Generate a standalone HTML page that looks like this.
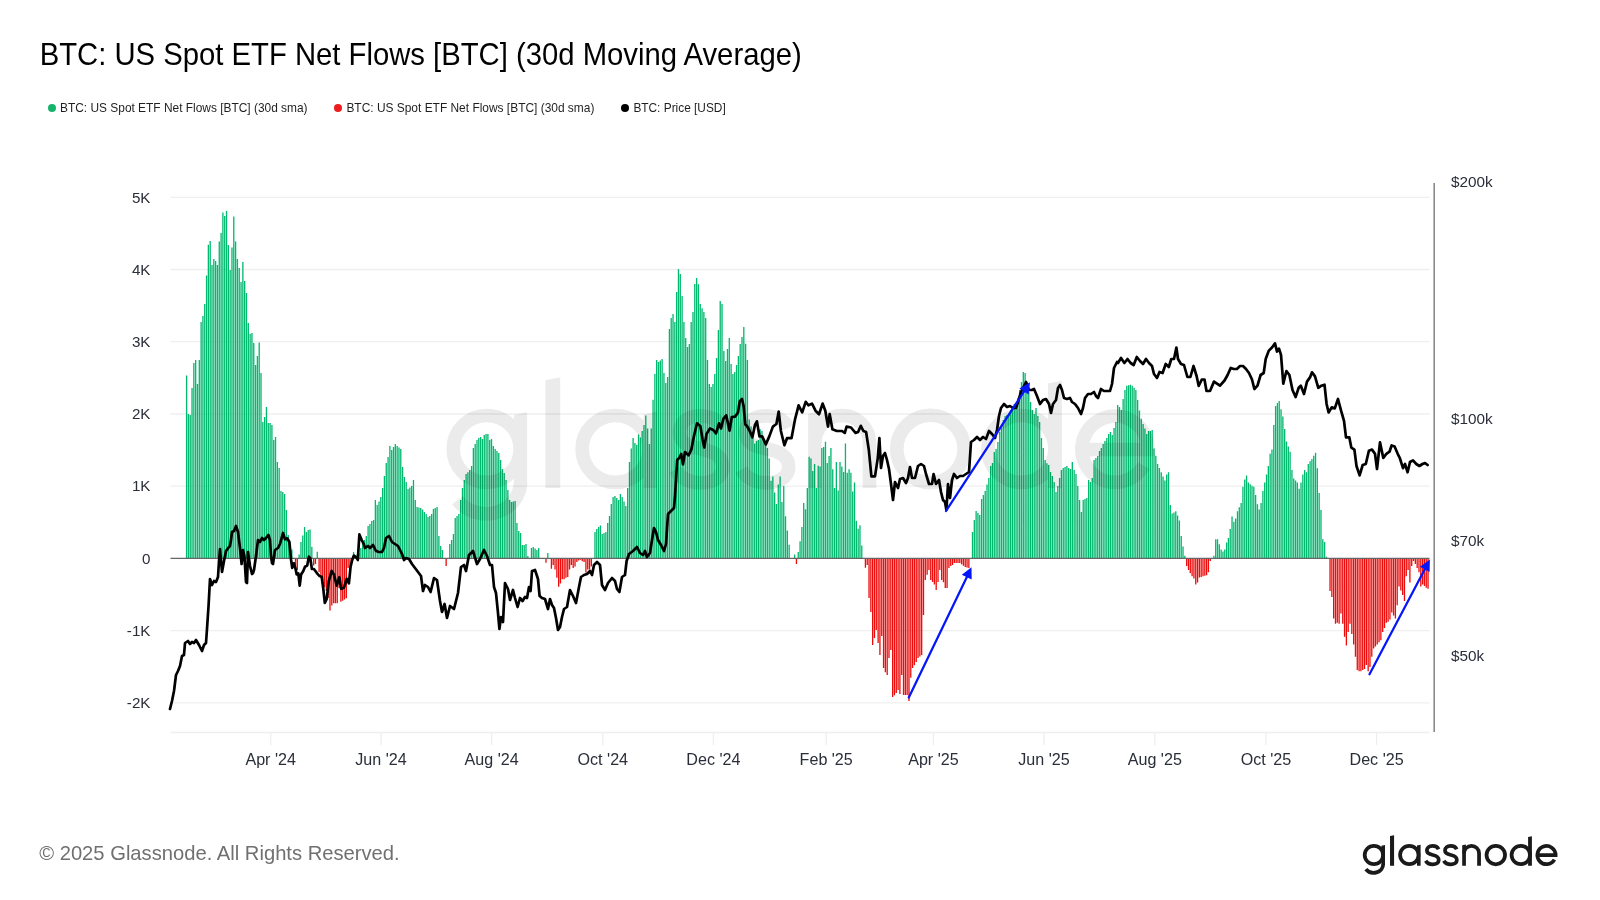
<!DOCTYPE html>
<html><head><meta charset="utf-8"><title>BTC: US Spot ETF Net Flows</title>
<style>
html,body{margin:0;padding:0;background:#fff;}
body{width:1600px;height:900px;position:relative;overflow:hidden;font-family:"Liberation Sans",sans-serif;}
svg{position:absolute;left:0;top:0;will-change:transform;}
</style></head><body>
<svg width="1600" height="900" viewBox="0 0 1600 900" font-family="Liberation Sans, sans-serif">
<text x="39.7" y="64.6" font-size="31.2" fill="#000" textLength="762" lengthAdjust="spacingAndGlyphs">BTC: US Spot ETF Net Flows [BTC] (30d Moving Average)</text>
<g font-size="12.2" fill="#1f1f1f">
<circle cx="52" cy="108" r="4" fill="#16b46b"/><text x="60" y="111.9" textLength="247.6" lengthAdjust="spacingAndGlyphs">BTC: US Spot ETF Net Flows [BTC] (30d sma)</text>
<circle cx="338" cy="108" r="4" fill="#ee1c1c"/><text x="346.4" y="111.9" textLength="248" lengthAdjust="spacingAndGlyphs">BTC: US Spot ETF Net Flows [BTC] (30d sma)</text>
<circle cx="625" cy="108" r="4" fill="#000"/><text x="633.4" y="111.9" textLength="92.3" lengthAdjust="spacingAndGlyphs">BTC: Price [USD]</text>
</g>
<g stroke="#efefef" stroke-width="1.3">
<line x1="170.5" y1="197.3" x2="1429.5" y2="197.3"/><line x1="170.5" y1="269.5" x2="1429.5" y2="269.5"/><line x1="170.5" y1="341.7" x2="1429.5" y2="341.7"/><line x1="170.5" y1="414.0" x2="1429.5" y2="414.0"/><line x1="170.5" y1="486.2" x2="1429.5" y2="486.2"/><line x1="170.5" y1="630.6" x2="1429.5" y2="630.6"/><line x1="170.5" y1="702.8" x2="1429.5" y2="702.8"/>
<line x1="170.5" y1="732.5" x2="1429.5" y2="732.5"/>
<line x1="270.7" y1="732.5" x2="270.7" y2="745"/><line x1="381.0" y1="732.5" x2="381.0" y2="745"/><line x1="491.6" y1="732.5" x2="491.6" y2="745"/><line x1="602.8" y1="732.5" x2="602.8" y2="745"/><line x1="713.4" y1="732.5" x2="713.4" y2="745"/><line x1="826.2" y1="732.5" x2="826.2" y2="745"/><line x1="933.4" y1="732.5" x2="933.4" y2="745"/><line x1="1044.0" y1="732.5" x2="1044.0" y2="745"/><line x1="1154.8" y1="732.5" x2="1154.8" y2="745"/><line x1="1265.9" y1="732.5" x2="1265.9" y2="745"/><line x1="1376.6" y1="732.5" x2="1376.6" y2="745"/>
</g>
<g font-size="15.2" fill="#2a2e39" text-anchor="end"><text x="150.5" y="202.5">5K</text><text x="150.5" y="274.7">4K</text><text x="150.5" y="346.9">3K</text><text x="150.5" y="419.2">2K</text><text x="150.5" y="491.4">1K</text><text x="150.5" y="563.6">0</text><text x="150.5" y="635.8">-1K</text><text x="150.5" y="708.0">-2K</text></g>
<g font-size="16.1" fill="#2a2e39" text-anchor="middle"><text x="270.7" y="765">Apr '24</text><text x="381.0" y="765">Jun '24</text><text x="491.6" y="765">Aug '24</text><text x="602.8" y="765">Oct '24</text><text x="713.4" y="765">Dec '24</text><text x="826.2" y="765">Feb '25</text><text x="933.4" y="765">Apr '25</text><text x="1044.0" y="765">Jun '25</text><text x="1154.8" y="765">Aug '25</text><text x="1265.9" y="765">Oct '25</text><text x="1376.6" y="765">Dec '25</text></g>
<g font-size="15.3" fill="#2a2e39"><text x="1451" y="187.0">$200k</text><text x="1451" y="424.0">$100k</text><text x="1451" y="546.0">$70k</text><text x="1451" y="661.0">$50k</text></g>
<path d="M185.94 375.4h1.31V558.4h-1.31zM187.76 414.0h1.31V558.4h-1.31zM189.57 415.0h1.31V558.4h-1.31zM191.39 388.0h1.31V558.4h-1.31zM193.20 363.0h1.31V558.4h-1.31zM195.02 360.0h1.31V558.4h-1.31zM196.84 384.0h1.31V558.4h-1.31zM198.65 360.0h1.31V558.4h-1.31zM200.47 322.0h1.31V558.4h-1.31zM202.28 316.0h1.31V558.4h-1.31zM204.09 304.0h1.31V558.4h-1.31zM205.91 275.5h1.31V558.4h-1.31zM207.72 244.8h1.31V558.4h-1.31zM209.54 241.0h1.31V558.4h-1.31zM211.35 265.0h1.31V558.4h-1.31zM213.17 259.0h1.31V558.4h-1.31zM214.98 261.0h1.31V558.4h-1.31zM216.80 265.0h1.31V558.4h-1.31zM218.61 241.5h1.31V558.4h-1.31zM220.43 233.0h1.31V558.4h-1.31zM222.24 212.5h1.31V558.4h-1.31zM224.06 216.0h1.31V558.4h-1.31zM225.88 211.0h1.31V558.4h-1.31zM227.69 245.0h1.31V558.4h-1.31zM229.50 270.0h1.31V558.4h-1.31zM231.32 247.5h1.31V558.4h-1.31zM233.13 216.5h1.31V558.4h-1.31zM234.95 241.5h1.31V558.4h-1.31zM236.76 259.0h1.31V558.4h-1.31zM238.58 268.0h1.31V558.4h-1.31zM240.39 282.0h1.31V558.4h-1.31zM242.21 262.0h1.31V558.4h-1.31zM244.03 281.0h1.31V558.4h-1.31zM245.84 293.0h1.31V558.4h-1.31zM247.66 323.0h1.31V558.4h-1.31zM249.47 334.0h1.31V558.4h-1.31zM251.28 333.0h1.31V558.4h-1.31zM253.10 343.0h1.31V558.4h-1.31zM254.91 365.0h1.31V558.4h-1.31zM256.73 356.0h1.31V558.4h-1.31zM258.55 342.4h1.31V558.4h-1.31zM260.36 373.0h1.31V558.4h-1.31zM262.18 422.0h1.31V558.4h-1.31zM263.99 417.0h1.31V558.4h-1.31zM265.81 407.0h1.31V558.4h-1.31zM267.62 423.0h1.31V558.4h-1.31zM269.44 423.0h1.31V558.4h-1.31zM271.25 425.0h1.31V558.4h-1.31zM273.07 440.0h1.31V558.4h-1.31zM274.88 437.0h1.31V558.4h-1.31zM276.70 462.0h1.31V558.4h-1.31zM278.51 468.0h1.31V558.4h-1.31zM280.33 491.0h1.31V558.4h-1.31zM282.14 492.0h1.31V558.4h-1.31zM283.96 494.0h1.31V558.4h-1.31zM285.77 510.0h1.31V558.4h-1.31zM287.59 535.0h1.31V558.4h-1.31zM289.40 545.0h1.31V558.4h-1.31zM291.22 549.4h1.31V558.4h-1.31zM298.48 554.4h1.31V558.4h-1.31zM300.29 542.0h1.31V558.4h-1.31zM302.11 535.6h1.31V558.4h-1.31zM303.92 527.0h1.31V558.4h-1.31zM305.74 532.0h1.31V558.4h-1.31zM307.55 530.0h1.31V558.4h-1.31zM309.37 529.4h1.31V558.4h-1.31zM311.18 546.7h1.31V558.4h-1.31zM316.62 551.7h1.31V558.4h-1.31zM352.93 552.0h1.31V558.4h-1.31zM354.74 555.6h1.31V558.4h-1.31zM356.56 554.4h1.31V558.4h-1.31zM358.37 553.3h1.31V558.4h-1.31zM360.19 548.0h1.31V558.4h-1.31zM362.00 543.3h1.31V558.4h-1.31zM363.82 540.0h1.31V558.4h-1.31zM365.63 536.0h1.31V558.4h-1.31zM367.45 526.0h1.31V558.4h-1.31zM369.26 524.0h1.31V558.4h-1.31zM371.08 521.0h1.31V558.4h-1.31zM372.89 520.0h1.31V558.4h-1.31zM374.71 500.0h1.31V558.4h-1.31zM376.52 505.0h1.31V558.4h-1.31zM378.34 501.5h1.31V558.4h-1.31zM380.15 497.0h1.31V558.4h-1.31zM381.97 488.1h1.31V558.4h-1.31zM383.78 476.0h1.31V558.4h-1.31zM385.60 463.0h1.31V558.4h-1.31zM387.41 457.0h1.31V558.4h-1.31zM389.23 446.0h1.31V558.4h-1.31zM391.04 450.0h1.31V558.4h-1.31zM392.86 447.0h1.31V558.4h-1.31zM394.67 444.0h1.31V558.4h-1.31zM396.49 446.0h1.31V558.4h-1.31zM398.30 447.4h1.31V558.4h-1.31zM400.12 449.0h1.31V558.4h-1.31zM401.93 467.0h1.31V558.4h-1.31zM403.75 477.0h1.31V558.4h-1.31zM405.56 482.0h1.31V558.4h-1.31zM407.38 489.0h1.31V558.4h-1.31zM409.19 487.4h1.31V558.4h-1.31zM411.00 486.0h1.31V558.4h-1.31zM412.82 480.0h1.31V558.4h-1.31zM414.63 500.0h1.31V558.4h-1.31zM416.45 507.0h1.31V558.4h-1.31zM418.26 507.5h1.31V558.4h-1.31zM420.08 508.0h1.31V558.4h-1.31zM421.89 509.4h1.31V558.4h-1.31zM423.71 512.0h1.31V558.4h-1.31zM425.52 514.0h1.31V558.4h-1.31zM427.34 517.0h1.31V558.4h-1.31zM429.15 516.0h1.31V558.4h-1.31zM430.97 514.0h1.31V558.4h-1.31zM432.79 509.0h1.31V558.4h-1.31zM434.60 508.0h1.31V558.4h-1.31zM436.42 507.0h1.31V558.4h-1.31zM438.23 536.0h1.31V558.4h-1.31zM440.05 546.0h1.31V558.4h-1.31zM441.86 550.0h1.31V558.4h-1.31zM449.12 544.0h1.31V558.4h-1.31zM450.94 540.0h1.31V558.4h-1.31zM452.75 534.0h1.31V558.4h-1.31zM454.57 518.0h1.31V558.4h-1.31zM456.38 516.0h1.31V558.4h-1.31zM458.20 514.0h1.31V558.4h-1.31zM460.01 500.0h1.31V558.4h-1.31zM461.83 488.0h1.31V558.4h-1.31zM463.64 480.0h1.31V558.4h-1.31zM465.46 474.0h1.31V558.4h-1.31zM467.27 472.2h1.31V558.4h-1.31zM469.09 470.0h1.31V558.4h-1.31zM470.90 466.0h1.31V558.4h-1.31zM472.72 448.0h1.31V558.4h-1.31zM474.53 444.0h1.31V558.4h-1.31zM476.35 440.0h1.31V558.4h-1.31zM478.16 438.0h1.31V558.4h-1.31zM479.98 437.0h1.31V558.4h-1.31zM481.79 439.0h1.31V558.4h-1.31zM483.61 435.0h1.31V558.4h-1.31zM485.42 434.0h1.31V558.4h-1.31zM487.24 434.0h1.31V558.4h-1.31zM489.05 440.0h1.31V558.4h-1.31zM490.87 439.1h1.31V558.4h-1.31zM492.68 446.0h1.31V558.4h-1.31zM494.50 449.0h1.31V558.4h-1.31zM496.31 450.9h1.31V558.4h-1.31zM498.12 453.0h1.31V558.4h-1.31zM499.94 460.0h1.31V558.4h-1.31zM501.75 469.0h1.31V558.4h-1.31zM503.57 473.0h1.31V558.4h-1.31zM505.38 480.0h1.31V558.4h-1.31zM507.20 490.0h1.31V558.4h-1.31zM509.01 500.0h1.31V558.4h-1.31zM510.83 502.0h1.31V558.4h-1.31zM512.64 501.5h1.31V558.4h-1.31zM514.46 501.0h1.31V558.4h-1.31zM516.27 523.0h1.31V558.4h-1.31zM518.09 531.0h1.31V558.4h-1.31zM519.90 533.0h1.31V558.4h-1.31zM521.72 545.0h1.31V558.4h-1.31zM523.53 545.0h1.31V558.4h-1.31zM525.35 544.0h1.31V558.4h-1.31zM527.16 556.0h1.31V558.4h-1.31zM530.79 548.0h1.31V558.4h-1.31zM532.61 547.0h1.31V558.4h-1.31zM534.43 548.6h1.31V558.4h-1.31zM536.24 550.0h1.31V558.4h-1.31zM538.06 548.0h1.31V558.4h-1.31zM547.13 553.0h1.31V558.4h-1.31zM594.32 532.0h1.31V558.4h-1.31zM596.13 529.0h1.31V558.4h-1.31zM597.95 527.0h1.31V558.4h-1.31zM599.76 525.5h1.31V558.4h-1.31zM601.58 534.0h1.31V558.4h-1.31zM603.39 533.0h1.31V558.4h-1.31zM605.21 532.0h1.31V558.4h-1.31zM607.02 523.0h1.31V558.4h-1.31zM608.84 516.0h1.31V558.4h-1.31zM610.65 504.0h1.31V558.4h-1.31zM612.47 497.0h1.31V558.4h-1.31zM614.28 496.0h1.31V558.4h-1.31zM616.10 498.0h1.31V558.4h-1.31zM617.91 500.0h1.31V558.4h-1.31zM619.73 494.0h1.31V558.4h-1.31zM621.54 497.0h1.31V558.4h-1.31zM623.36 501.6h1.31V558.4h-1.31zM625.17 506.0h1.31V558.4h-1.31zM626.99 488.0h1.31V558.4h-1.31zM628.81 462.0h1.31V558.4h-1.31zM630.62 448.6h1.31V558.4h-1.31zM632.44 438.0h1.31V558.4h-1.31zM634.25 443.0h1.31V558.4h-1.31zM636.07 444.7h1.31V558.4h-1.31zM637.88 434.6h1.31V558.4h-1.31zM639.70 437.4h1.31V558.4h-1.31zM641.51 431.0h1.31V558.4h-1.31zM643.33 425.0h1.31V558.4h-1.31zM645.14 415.4h1.31V558.4h-1.31zM646.96 428.4h1.31V558.4h-1.31zM648.77 444.0h1.31V558.4h-1.31zM650.59 428.4h1.31V558.4h-1.31zM652.40 399.7h1.31V558.4h-1.31zM654.22 374.0h1.31V558.4h-1.31zM656.03 360.0h1.31V558.4h-1.31zM657.85 362.0h1.31V558.4h-1.31zM659.66 360.6h1.31V558.4h-1.31zM661.48 359.0h1.31V558.4h-1.31zM663.29 373.0h1.31V558.4h-1.31zM665.11 383.0h1.31V558.4h-1.31zM666.92 377.0h1.31V558.4h-1.31zM668.74 329.0h1.31V558.4h-1.31zM670.55 318.0h1.31V558.4h-1.31zM672.37 314.0h1.31V558.4h-1.31zM674.18 322.0h1.31V558.4h-1.31zM676.00 292.0h1.31V558.4h-1.31zM677.81 269.0h1.31V558.4h-1.31zM679.62 274.0h1.31V558.4h-1.31zM681.44 296.0h1.31V558.4h-1.31zM683.25 322.0h1.31V558.4h-1.31zM685.07 338.0h1.31V558.4h-1.31zM686.88 347.0h1.31V558.4h-1.31zM688.70 344.0h1.31V558.4h-1.31zM690.51 322.0h1.31V558.4h-1.31zM692.33 312.0h1.31V558.4h-1.31zM694.14 284.0h1.31V558.4h-1.31zM695.96 278.0h1.31V558.4h-1.31zM697.77 284.2h1.31V558.4h-1.31zM699.59 304.0h1.31V558.4h-1.31zM701.41 308.2h1.31V558.4h-1.31zM703.22 312.0h1.31V558.4h-1.31zM705.04 318.0h1.31V558.4h-1.31zM706.85 360.0h1.31V558.4h-1.31zM708.67 384.0h1.31V558.4h-1.31zM710.48 387.0h1.31V558.4h-1.31zM712.30 384.0h1.31V558.4h-1.31zM714.11 374.0h1.31V558.4h-1.31zM715.93 358.0h1.31V558.4h-1.31zM717.74 330.0h1.31V558.4h-1.31zM719.56 301.0h1.31V558.4h-1.31zM721.37 304.0h1.31V558.4h-1.31zM723.19 351.0h1.31V558.4h-1.31zM725.00 361.0h1.31V558.4h-1.31zM726.82 349.0h1.31V558.4h-1.31zM728.63 338.0h1.31V558.4h-1.31zM730.45 364.0h1.31V558.4h-1.31zM732.26 374.0h1.31V558.4h-1.31zM734.08 372.0h1.31V558.4h-1.31zM735.89 365.0h1.31V558.4h-1.31zM737.71 356.0h1.31V558.4h-1.31zM739.52 344.0h1.31V558.4h-1.31zM741.34 337.1h1.31V558.4h-1.31zM743.15 327.0h1.31V558.4h-1.31zM744.97 343.8h1.31V558.4h-1.31zM746.78 360.0h1.31V558.4h-1.31zM748.60 419.5h1.31V558.4h-1.31zM750.41 426.6h1.31V558.4h-1.31zM752.23 438.0h1.31V558.4h-1.31zM754.04 443.5h1.31V558.4h-1.31zM755.86 440.9h1.31V558.4h-1.31zM757.67 440.0h1.31V558.4h-1.31zM759.49 429.3h1.31V558.4h-1.31zM761.30 431.0h1.31V558.4h-1.31zM763.12 439.0h1.31V558.4h-1.31zM764.93 445.3h1.31V558.4h-1.31zM766.75 448.0h1.31V558.4h-1.31zM768.56 458.6h1.31V558.4h-1.31zM770.38 480.8h1.31V558.4h-1.31zM772.19 476.4h1.31V558.4h-1.31zM774.00 492.4h1.31V558.4h-1.31zM775.82 504.0h1.31V558.4h-1.31zM777.63 484.4h1.31V558.4h-1.31zM779.45 476.4h1.31V558.4h-1.31zM781.26 502.0h1.31V558.4h-1.31zM783.08 486.0h1.31V558.4h-1.31zM784.89 516.3h1.31V558.4h-1.31zM786.71 530.5h1.31V558.4h-1.31zM788.52 544.8h1.31V558.4h-1.31zM793.97 554.5h1.31V558.4h-1.31zM797.60 551.9h1.31V558.4h-1.31zM799.42 541.2h1.31V558.4h-1.31zM801.23 527.0h1.31V558.4h-1.31zM803.05 503.0h1.31V558.4h-1.31zM804.86 509.2h1.31V558.4h-1.31zM806.68 488.0h1.31V558.4h-1.31zM808.49 456.8h1.31V558.4h-1.31zM810.31 458.6h1.31V558.4h-1.31zM812.12 471.0h1.31V558.4h-1.31zM813.94 464.0h1.31V558.4h-1.31zM815.75 488.0h1.31V558.4h-1.31zM817.57 465.7h1.31V558.4h-1.31zM819.38 466.6h1.31V558.4h-1.31zM821.20 448.0h1.31V558.4h-1.31zM823.01 447.0h1.31V558.4h-1.31zM824.83 441.7h1.31V558.4h-1.31zM826.64 463.0h1.31V558.4h-1.31zM828.46 456.0h1.31V558.4h-1.31zM830.27 448.0h1.31V558.4h-1.31zM832.09 469.3h1.31V558.4h-1.31zM833.90 488.0h1.31V558.4h-1.31zM835.72 462.0h1.31V558.4h-1.31zM837.53 490.6h1.31V558.4h-1.31zM839.35 462.0h1.31V558.4h-1.31zM841.16 466.6h1.31V558.4h-1.31zM842.98 472.0h1.31V558.4h-1.31zM844.79 443.5h1.31V558.4h-1.31zM846.61 472.8h1.31V558.4h-1.31zM848.42 469.3h1.31V558.4h-1.31zM850.24 472.8h1.31V558.4h-1.31zM852.05 491.5h1.31V558.4h-1.31zM853.87 482.6h1.31V558.4h-1.31zM855.68 520.8h1.31V558.4h-1.31zM857.50 528.8h1.31V558.4h-1.31zM859.31 525.2h1.31V558.4h-1.31zM861.12 545.6h1.31V558.4h-1.31zM971.84 532.0h1.31V558.4h-1.31zM973.65 520.0h1.31V558.4h-1.31zM975.47 511.0h1.31V558.4h-1.31zM977.29 512.9h1.31V558.4h-1.31zM979.10 515.0h1.31V558.4h-1.31zM980.92 499.0h1.31V558.4h-1.31zM982.73 495.0h1.31V558.4h-1.31zM984.55 491.0h1.31V558.4h-1.31zM986.36 484.4h1.31V558.4h-1.31zM988.18 478.0h1.31V558.4h-1.31zM989.99 466.0h1.31V558.4h-1.31zM991.81 463.0h1.31V558.4h-1.31zM993.62 452.0h1.31V558.4h-1.31zM995.44 449.0h1.31V558.4h-1.31zM997.25 442.0h1.31V558.4h-1.31zM999.07 432.0h1.31V558.4h-1.31zM1000.88 426.0h1.31V558.4h-1.31zM1002.70 420.0h1.31V558.4h-1.31zM1004.51 416.0h1.31V558.4h-1.31zM1006.33 415.0h1.31V558.4h-1.31zM1008.14 414.0h1.31V558.4h-1.31zM1009.96 410.0h1.31V558.4h-1.31zM1011.77 406.0h1.31V558.4h-1.31zM1013.59 404.0h1.31V558.4h-1.31zM1015.40 403.0h1.31V558.4h-1.31zM1017.22 398.0h1.31V558.4h-1.31zM1019.03 390.0h1.31V558.4h-1.31zM1020.85 382.0h1.31V558.4h-1.31zM1022.66 372.0h1.31V558.4h-1.31zM1024.47 373.0h1.31V558.4h-1.31zM1026.29 382.0h1.31V558.4h-1.31zM1028.11 392.0h1.31V558.4h-1.31zM1029.92 402.0h1.31V558.4h-1.31zM1031.73 410.0h1.31V558.4h-1.31zM1033.55 414.0h1.31V558.4h-1.31zM1035.37 408.0h1.31V558.4h-1.31zM1037.18 416.0h1.31V558.4h-1.31zM1038.99 422.0h1.31V558.4h-1.31zM1040.81 438.0h1.31V558.4h-1.31zM1042.62 448.0h1.31V558.4h-1.31zM1044.44 460.0h1.31V558.4h-1.31zM1046.25 463.2h1.31V558.4h-1.31zM1048.07 465.0h1.31V558.4h-1.31zM1049.88 472.0h1.31V558.4h-1.31zM1051.70 476.0h1.31V558.4h-1.31zM1053.51 482.0h1.31V558.4h-1.31zM1055.33 492.0h1.31V558.4h-1.31zM1057.14 486.0h1.31V558.4h-1.31zM1058.96 478.0h1.31V558.4h-1.31zM1060.77 470.0h1.31V558.4h-1.31zM1062.59 468.0h1.31V558.4h-1.31zM1064.40 466.9h1.31V558.4h-1.31zM1066.22 466.0h1.31V558.4h-1.31zM1068.03 468.0h1.31V558.4h-1.31zM1069.85 469.0h1.31V558.4h-1.31zM1071.66 462.0h1.31V558.4h-1.31zM1073.48 470.0h1.31V558.4h-1.31zM1075.30 474.0h1.31V558.4h-1.31zM1077.11 486.0h1.31V558.4h-1.31zM1078.92 500.0h1.31V558.4h-1.31zM1080.74 512.0h1.31V558.4h-1.31zM1082.56 500.0h1.31V558.4h-1.31zM1084.37 499.0h1.31V558.4h-1.31zM1086.18 498.0h1.31V558.4h-1.31zM1088.00 480.0h1.31V558.4h-1.31zM1089.82 482.0h1.31V558.4h-1.31zM1091.63 478.0h1.31V558.4h-1.31zM1093.44 460.0h1.31V558.4h-1.31zM1095.26 458.0h1.31V558.4h-1.31zM1097.08 456.0h1.31V558.4h-1.31zM1098.89 451.0h1.31V558.4h-1.31zM1100.70 448.0h1.31V558.4h-1.31zM1102.52 444.0h1.31V558.4h-1.31zM1104.34 441.0h1.31V558.4h-1.31zM1106.15 438.0h1.31V558.4h-1.31zM1107.96 434.0h1.31V558.4h-1.31zM1109.78 432.0h1.31V558.4h-1.31zM1111.60 435.0h1.31V558.4h-1.31zM1113.41 428.1h1.31V558.4h-1.31zM1115.22 422.0h1.31V558.4h-1.31zM1117.04 405.0h1.31V558.4h-1.31zM1118.86 407.0h1.31V558.4h-1.31zM1120.67 410.0h1.31V558.4h-1.31zM1122.48 399.0h1.31V558.4h-1.31zM1124.30 390.0h1.31V558.4h-1.31zM1126.12 385.7h1.31V558.4h-1.31zM1127.93 385.2h1.31V558.4h-1.31zM1129.74 384.7h1.31V558.4h-1.31zM1131.56 385.7h1.31V558.4h-1.31zM1133.38 387.8h1.31V558.4h-1.31zM1135.19 390.0h1.31V558.4h-1.31zM1137.00 400.0h1.31V558.4h-1.31zM1138.82 410.4h1.31V558.4h-1.31zM1140.63 418.7h1.31V558.4h-1.31zM1142.45 424.0h1.31V558.4h-1.31zM1144.26 428.6h1.31V558.4h-1.31zM1146.08 434.0h1.31V558.4h-1.31zM1147.89 431.0h1.31V558.4h-1.31zM1149.71 431.0h1.31V558.4h-1.31zM1151.52 430.0h1.31V558.4h-1.31zM1153.34 448.6h1.31V558.4h-1.31zM1155.15 455.8h1.31V558.4h-1.31zM1156.97 464.0h1.31V558.4h-1.31zM1158.78 467.9h1.31V558.4h-1.31zM1160.60 472.3h1.31V558.4h-1.31zM1162.41 476.5h1.31V558.4h-1.31zM1164.23 480.6h1.31V558.4h-1.31zM1166.05 474.4h1.31V558.4h-1.31zM1167.86 472.3h1.31V558.4h-1.31zM1169.67 505.0h1.31V558.4h-1.31zM1171.49 513.6h1.31V558.4h-1.31zM1173.31 512.4h1.31V558.4h-1.31zM1175.12 511.3h1.31V558.4h-1.31zM1176.93 515.5h1.31V558.4h-1.31zM1178.75 520.6h1.31V558.4h-1.31zM1180.57 536.0h1.31V558.4h-1.31zM1182.38 546.4h1.31V558.4h-1.31zM1184.19 555.7h1.31V558.4h-1.31zM1213.23 555.7h1.31V558.4h-1.31zM1215.05 539.2h1.31V558.4h-1.31zM1216.87 539.2h1.31V558.4h-1.31zM1218.68 544.3h1.31V558.4h-1.31zM1220.49 549.5h1.31V558.4h-1.31zM1222.31 551.6h1.31V558.4h-1.31zM1224.12 549.5h1.31V558.4h-1.31zM1225.94 542.4h1.31V558.4h-1.31zM1227.75 538.0h1.31V558.4h-1.31zM1229.57 529.0h1.31V558.4h-1.31zM1231.38 516.5h1.31V558.4h-1.31zM1233.20 521.7h1.31V558.4h-1.31zM1235.01 518.6h1.31V558.4h-1.31zM1236.83 511.3h1.31V558.4h-1.31zM1238.64 507.2h1.31V558.4h-1.31zM1240.46 503.0h1.31V558.4h-1.31zM1242.27 486.8h1.31V558.4h-1.31zM1244.09 479.5h1.31V558.4h-1.31zM1245.90 475.4h1.31V558.4h-1.31zM1247.72 482.6h1.31V558.4h-1.31zM1249.53 484.2h1.31V558.4h-1.31zM1251.35 485.7h1.31V558.4h-1.31zM1253.16 486.8h1.31V558.4h-1.31zM1254.98 495.0h1.31V558.4h-1.31zM1256.79 504.3h1.31V558.4h-1.31zM1258.61 509.5h1.31V558.4h-1.31zM1260.42 503.0h1.31V558.4h-1.31zM1262.24 491.0h1.31V558.4h-1.31zM1264.05 482.6h1.31V558.4h-1.31zM1265.87 474.4h1.31V558.4h-1.31zM1267.68 466.0h1.31V558.4h-1.31zM1269.50 453.8h1.31V558.4h-1.31zM1271.31 449.6h1.31V558.4h-1.31zM1273.13 425.0h1.31V558.4h-1.31zM1274.94 406.0h1.31V558.4h-1.31zM1276.76 403.0h1.31V558.4h-1.31zM1278.57 401.0h1.31V558.4h-1.31zM1280.39 409.2h1.31V558.4h-1.31zM1282.20 416.6h1.31V558.4h-1.31zM1284.02 429.0h1.31V558.4h-1.31zM1285.83 441.4h1.31V558.4h-1.31zM1287.65 446.5h1.31V558.4h-1.31zM1289.46 451.7h1.31V558.4h-1.31zM1291.28 470.0h1.31V558.4h-1.31zM1293.09 478.5h1.31V558.4h-1.31zM1294.91 480.4h1.31V558.4h-1.31zM1296.72 482.6h1.31V558.4h-1.31zM1298.54 488.8h1.31V558.4h-1.31zM1300.35 482.6h1.31V558.4h-1.31zM1302.17 474.4h1.31V558.4h-1.31zM1303.98 470.0h1.31V558.4h-1.31zM1305.80 472.3h1.31V558.4h-1.31zM1307.62 464.0h1.31V558.4h-1.31zM1309.43 461.3h1.31V558.4h-1.31zM1311.24 459.0h1.31V558.4h-1.31zM1313.06 455.8h1.31V558.4h-1.31zM1314.88 452.7h1.31V558.4h-1.31zM1316.69 468.2h1.31V558.4h-1.31zM1318.50 493.0h1.31V558.4h-1.31zM1320.32 510.0h1.31V558.4h-1.31zM1322.13 539.2h1.31V558.4h-1.31zM1323.95 541.9h1.31V558.4h-1.31zM1325.76 556.7h1.31V558.4h-1.31z" fill="#00b86e"/>
<path d="M294.85 558.4h1.31V568.0h-1.31zM296.66 558.4h1.31V570.0h-1.31zM313.00 558.4h1.31V565.6h-1.31zM314.81 558.4h1.31V564.0h-1.31zM318.44 558.4h1.31V572.0h-1.31zM320.25 558.4h1.31V578.0h-1.31zM322.07 558.4h1.31V583.0h-1.31zM323.88 558.4h1.31V587.3h-1.31zM325.70 558.4h1.31V591.0h-1.31zM327.51 558.4h1.31V598.0h-1.31zM329.33 558.4h1.31V610.6h-1.31zM331.14 558.4h1.31V605.6h-1.31zM332.96 558.4h1.31V603.3h-1.31zM334.77 558.4h1.31V603.3h-1.31zM336.59 558.4h1.31V603.3h-1.31zM338.41 558.4h1.31V588.0h-1.31zM340.22 558.4h1.31V601.7h-1.31zM342.04 558.4h1.31V600.7h-1.31zM343.85 558.4h1.31V599.4h-1.31zM345.67 558.4h1.31V598.3h-1.31zM347.48 558.4h1.31V568.0h-1.31zM349.30 558.4h1.31V570.0h-1.31zM351.11 558.4h1.31V560.5h-1.31zM445.49 558.4h1.31V566.0h-1.31zM545.32 558.4h1.31V562.8h-1.31zM550.76 558.4h1.31V568.8h-1.31zM552.58 558.4h1.31V565.0h-1.31zM554.39 558.4h1.31V569.5h-1.31zM556.21 558.4h1.31V577.8h-1.31zM558.02 558.4h1.31V586.8h-1.31zM559.84 558.4h1.31V583.4h-1.31zM561.65 558.4h1.31V579.2h-1.31zM563.47 558.4h1.31V579.2h-1.31zM565.28 558.4h1.31V577.8h-1.31zM567.10 558.4h1.31V577.0h-1.31zM568.91 558.4h1.31V569.5h-1.31zM570.73 558.4h1.31V565.0h-1.31zM572.54 558.4h1.31V568.0h-1.31zM574.36 558.4h1.31V566.5h-1.31zM576.17 558.4h1.31V562.0h-1.31zM577.99 558.4h1.31V560.5h-1.31zM579.80 558.4h1.31V559.8h-1.31zM581.62 558.4h1.31V561.2h-1.31zM583.43 558.4h1.31V562.0h-1.31zM585.25 558.4h1.31V572.5h-1.31zM587.06 558.4h1.31V569.5h-1.31zM588.88 558.4h1.31V569.5h-1.31zM590.69 558.4h1.31V566.5h-1.31zM795.79 558.4h1.31V564.0h-1.31zM864.75 558.4h1.31V567.8h-1.31zM866.57 558.4h1.31V565.0h-1.31zM868.38 558.4h1.31V598.0h-1.31zM870.20 558.4h1.31V612.0h-1.31zM872.01 558.4h1.31V645.0h-1.31zM873.83 558.4h1.31V637.9h-1.31zM875.64 558.4h1.31V630.0h-1.31zM877.46 558.4h1.31V643.0h-1.31zM879.27 558.4h1.31V655.0h-1.31zM881.09 558.4h1.31V636.0h-1.31zM882.91 558.4h1.31V668.0h-1.31zM884.72 558.4h1.31V672.2h-1.31zM886.54 558.4h1.31V675.0h-1.31zM888.35 558.4h1.31V658.0h-1.31zM890.17 558.4h1.31V650.0h-1.31zM891.98 558.4h1.31V697.0h-1.31zM893.80 558.4h1.31V695.2h-1.31zM895.61 558.4h1.31V693.0h-1.31zM897.43 558.4h1.31V690.0h-1.31zM899.24 558.4h1.31V694.0h-1.31zM901.06 558.4h1.31V675.0h-1.31zM902.87 558.4h1.31V695.0h-1.31zM904.69 558.4h1.31V695.0h-1.31zM906.50 558.4h1.31V695.0h-1.31zM908.32 558.4h1.31V701.0h-1.31zM910.13 558.4h1.31V677.7h-1.31zM911.95 558.4h1.31V668.0h-1.31zM913.76 558.4h1.31V665.3h-1.31zM915.58 558.4h1.31V662.0h-1.31zM917.39 558.4h1.31V658.0h-1.31zM919.21 558.4h1.31V656.6h-1.31zM921.02 558.4h1.31V655.0h-1.31zM922.84 558.4h1.31V615.0h-1.31zM924.65 558.4h1.31V580.0h-1.31zM926.47 558.4h1.31V574.7h-1.31zM928.28 558.4h1.31V570.0h-1.31zM930.10 558.4h1.31V580.0h-1.31zM931.91 558.4h1.31V582.0h-1.31zM933.73 558.4h1.31V584.5h-1.31zM935.54 558.4h1.31V590.0h-1.31zM937.36 558.4h1.31V582.1h-1.31zM939.17 558.4h1.31V570.0h-1.31zM940.99 558.4h1.31V580.0h-1.31zM942.80 558.4h1.31V582.3h-1.31zM944.62 558.4h1.31V588.0h-1.31zM946.43 558.4h1.31V588.0h-1.31zM948.25 558.4h1.31V568.0h-1.31zM950.06 558.4h1.31V566.0h-1.31zM951.88 558.4h1.31V564.9h-1.31zM953.69 558.4h1.31V563.0h-1.31zM955.50 558.4h1.31V563.0h-1.31zM957.32 558.4h1.31V563.0h-1.31zM959.13 558.4h1.31V563.0h-1.31zM960.95 558.4h1.31V564.3h-1.31zM962.76 558.4h1.31V565.7h-1.31zM964.58 558.4h1.31V567.0h-1.31zM966.39 558.4h1.31V567.5h-1.31zM968.21 558.4h1.31V568.0h-1.31zM1186.01 558.4h1.31V566.0h-1.31zM1187.83 558.4h1.31V569.9h-1.31zM1189.64 558.4h1.31V573.2h-1.31zM1191.45 558.4h1.31V576.3h-1.31zM1193.27 558.4h1.31V578.4h-1.31zM1195.09 558.4h1.31V584.6h-1.31zM1196.90 558.4h1.31V582.4h-1.31zM1198.71 558.4h1.31V577.4h-1.31zM1200.53 558.4h1.31V576.9h-1.31zM1202.35 558.4h1.31V576.3h-1.31zM1204.16 558.4h1.31V575.7h-1.31zM1205.97 558.4h1.31V575.3h-1.31zM1207.79 558.4h1.31V572.2h-1.31zM1209.61 558.4h1.31V561.0h-1.31zM1329.39 558.4h1.31V591.1h-1.31zM1331.21 558.4h1.31V597.0h-1.31zM1333.02 558.4h1.31V618.6h-1.31zM1334.84 558.4h1.31V623.8h-1.31zM1336.65 558.4h1.31V622.7h-1.31zM1338.47 558.4h1.31V623.8h-1.31zM1340.28 558.4h1.31V613.4h-1.31zM1342.10 558.4h1.31V623.8h-1.31zM1343.91 558.4h1.31V636.8h-1.31zM1345.73 558.4h1.31V645.4h-1.31zM1347.54 558.4h1.31V632.0h-1.31zM1349.36 558.4h1.31V623.8h-1.31zM1351.17 558.4h1.31V634.0h-1.31zM1352.99 558.4h1.31V644.4h-1.31zM1354.80 558.4h1.31V656.8h-1.31zM1356.62 558.4h1.31V670.0h-1.31zM1358.43 558.4h1.31V671.2h-1.31zM1360.25 558.4h1.31V671.2h-1.31zM1362.06 558.4h1.31V670.0h-1.31zM1363.88 558.4h1.31V669.0h-1.31zM1365.69 558.4h1.31V665.0h-1.31zM1367.51 558.4h1.31V671.2h-1.31zM1369.32 558.4h1.31V667.0h-1.31zM1371.14 558.4h1.31V656.8h-1.31zM1372.95 558.4h1.31V648.5h-1.31zM1374.77 558.4h1.31V646.5h-1.31zM1376.58 558.4h1.31V644.4h-1.31zM1378.40 558.4h1.31V642.2h-1.31zM1380.21 558.4h1.31V640.3h-1.31zM1382.03 558.4h1.31V632.0h-1.31zM1383.84 558.4h1.31V628.0h-1.31zM1385.66 558.4h1.31V622.7h-1.31zM1387.47 558.4h1.31V621.7h-1.31zM1389.29 558.4h1.31V619.6h-1.31zM1391.10 558.4h1.31V612.4h-1.31zM1392.92 558.4h1.31V615.4h-1.31zM1394.73 558.4h1.31V618.6h-1.31zM1396.55 558.4h1.31V605.2h-1.31zM1398.37 558.4h1.31V586.6h-1.31zM1400.18 558.4h1.31V590.6h-1.31zM1401.99 558.4h1.31V595.0h-1.31zM1403.81 558.4h1.31V601.0h-1.31zM1405.62 558.4h1.31V576.3h-1.31zM1407.44 558.4h1.31V570.0h-1.31zM1409.25 558.4h1.31V582.5h-1.31zM1411.07 558.4h1.31V566.0h-1.31zM1412.88 558.4h1.31V561.0h-1.31zM1414.70 558.4h1.31V564.0h-1.31zM1416.51 558.4h1.31V568.0h-1.31zM1418.33 558.4h1.31V572.2h-1.31zM1420.14 558.4h1.31V586.6h-1.31zM1421.96 558.4h1.31V584.6h-1.31zM1423.77 558.4h1.31V586.0h-1.31zM1425.59 558.4h1.31V587.7h-1.31zM1427.40 558.4h1.31V588.7h-1.31z" fill="#ec0c0c"/>
<line x1="170.5" y1="558.4" x2="1429.5" y2="558.4" stroke="#666" stroke-width="1.2"/>
<line x1="1434.2" y1="183" x2="1434.2" y2="732" stroke="#8a8a8a" stroke-width="1.6"/>
<g opacity="0.078" transform="translate(-4514.26 -2663.24) scale(3.64)"><g fill="#000" stroke="none"><path d="M1381.40 864.60L1381.40 845.70L1385.00 844.90L1385.00 864.60z"/><path d="M1390.02 865.75L1390.02 836.10L1394.08 835.30L1394.08 865.75z"/><path d="M1417.00 865.75L1417.00 845.50L1420.60 844.70L1420.60 865.75z"/><path d="M1462.20 865.75L1462.20 845.30L1465.90 844.50L1465.90 865.75z"/><path d="M1528.10 865.75L1528.10 837.05L1531.90 836.25L1531.90 865.75z"/></g><g fill="none" stroke="#000" stroke-width="3.75"><circle cx="1373.9" cy="855" r="9.2"/><path d="M1383.2 864A9.5 8.8 0 0 1 1365.9 869.05"/><circle cx="1409.3" cy="855" r="9.2"/><path d="M1438.6 849.2C1437.6 847 1435.3 845.9 1432.5 845.9C1429.2 845.9 1426.9 847.6 1426.9 850.6C1426.9 853.6 1430 854.4 1432.8 855C1436 855.7 1438.75 856.8 1438.75 859.9C1438.75 862.7 1436.2 864.3 1432.7 864.3C1429.3 864.3 1426.9 862.8 1425.7 860.7"/><path transform="translate(18.1 0)" d="M1438.6 849.2C1437.6 847 1435.3 845.9 1432.5 845.9C1429.2 845.9 1426.9 847.6 1426.9 850.6C1426.9 853.6 1430 854.4 1432.8 855C1436 855.7 1438.75 856.8 1438.75 859.9C1438.75 862.7 1436.2 864.3 1432.7 864.3C1429.3 864.3 1426.9 862.8 1425.7 860.7"/><path d="M1464.05 853.3A7.5 7.5 0 0 1 1479.05 853.3V865.75"/><circle cx="1495.8" cy="855" r="9.25"/><circle cx="1520.8" cy="855" r="9.2"/><path d="M1538 855.15H1555.6A9.1 9.1 0 1 0 1554.4 859.6"/></g></g>
<path d="M170.0 709.0 L172.0 701.0 L174.0 691.0 L176.0 675.0 L178.0 671.0 L180.0 666.0 L182.0 656.0 L184.0 655.0 L185.0 643.0 L188.0 641.0 L190.0 644.0 L192.0 642.0 L194.0 643.0 L196.0 640.0 L199.0 645.0 L202.0 651.0 L204.0 645.0 L206.0 643.0 L207.0 629.0 L208.6 605.0 L210.0 579.0 L212.0 585.0 L214.0 581.0 L216.0 582.0 L218.0 577.0 L219.0 561.0 L220.0 549.0 L222.0 572.0 L224.0 561.0 L226.0 551.0 L229.0 547.0 L230.0 546.0 L231.0 540.0 L232.0 532.0 L234.0 531.0 L236.0 526.0 L238.0 532.0 L240.0 548.0 L241.6 564.0 L243.0 550.0 L244.4 556.0 L246.0 582.0 L247.0 583.0 L248.0 552.0 L250.0 566.0 L252.0 574.0 L253.0 573.0 L254.0 570.0 L256.0 556.0 L258.0 540.0 L260.0 542.0 L262.0 538.0 L264.0 540.0 L266.0 538.0 L268.4 535.0 L270.0 540.0 L271.0 556.0 L272.0 563.0 L273.0 564.0 L275.0 550.0 L278.0 548.0 L280.0 544.0 L283.0 533.0 L285.0 539.4 L287.2 538.3 L289.4 542.0 L291.1 560.0 L292.2 567.8 L293.9 563.3 L295.6 569.0 L296.7 574.4 L298.3 573.3 L299.7 585.6 L301.1 574.4 L303.3 571.0 L305.0 566.7 L307.2 565.6 L308.9 556.7 L310.3 558.3 L311.9 569.0 L313.9 569.0 L316.7 572.8 L319.4 576.0 L321.7 576.7 L323.3 588.9 L324.8 602.8 L326.7 598.9 L328.9 580.6 L331.7 571.0 L333.9 574.4 L336.7 585.6 L339.4 577.2 L341.1 588.9 L343.9 587.8 L346.7 578.9 L348.9 583.3 L350.6 566.7 L352.2 560.0 L353.9 555.6 L356.7 557.8 L357.8 560.0 L359.4 534.4 L361.7 540.0 L363.9 544.4 L365.0 548.0 L368.0 546.0 L370.0 548.0 L373.0 545.0 L376.0 551.0 L379.0 552.0 L382.0 552.0 L384.0 548.0 L386.0 538.0 L389.0 536.0 L392.0 542.0 L395.0 544.0 L398.0 546.0 L400.0 550.0 L402.0 554.0 L404.0 560.0 L406.0 558.0 L409.0 559.0 L412.0 564.0 L415.0 568.0 L418.0 572.0 L421.0 576.0 L423.0 591.0 L425.0 585.0 L428.0 587.0 L430.6 592.0 L434.0 578.0 L437.0 580.0 L440.0 601.0 L442.0 612.0 L444.6 604.0 L447.0 618.0 L450.0 606.0 L454.0 609.0 L458.0 593.0 L461.0 567.0 L464.0 565.0 L466.0 571.0 L469.0 555.0 L473.0 551.0 L477.0 564.0 L480.0 559.0 L484.0 550.0 L487.0 556.0 L490.0 565.0 L492.0 565.0 L494.0 587.0 L496.0 593.0 L498.0 613.0 L499.4 629.0 L501.0 617.0 L503.0 622.0 L505.0 583.0 L508.0 589.0 L510.0 600.0 L513.0 590.0 L515.0 598.0 L517.6 607.0 L520.0 598.0 L522.6 601.0 L525.0 597.0 L527.0 598.0 L529.0 587.0 L530.6 591.0 L532.0 571.0 L535.0 570.0 L538.0 579.0 L539.6 596.0 L542.0 598.0 L545.0 599.0 L548.0 609.0 L550.0 599.0 L552.0 605.0 L554.0 608.0 L556.0 618.0 L558.0 630.0 L560.0 627.0 L562.0 617.0 L564.0 609.0 L567.0 607.0 L570.0 590.0 L573.0 596.0 L576.0 603.0 L579.0 587.0 L581.0 577.0 L584.0 575.0 L587.0 574.0 L590.0 571.0 L592.0 575.0 L594.0 565.0 L597.0 562.0 L600.0 565.0 L602.0 585.0 L605.0 590.0 L608.0 583.0 L612.0 578.0 L615.0 581.0 L617.0 589.0 L619.4 592.0 L622.0 577.0 L625.0 575.0 L626.6 561.0 L629.0 554.0 L633.0 551.0 L637.0 547.0 L640.0 553.0 L643.0 555.0 L645.0 551.0 L647.0 557.0 L650.0 553.0 L652.0 540.0 L654.0 528.0 L656.0 532.0 L658.0 540.0 L661.0 545.0 L664.0 551.0 L666.0 544.0 L668.0 514.0 L671.0 511.0 L674.0 508.0 L675.0 496.0 L676.0 480.0 L677.2 460.0 L679.5 457.6 L681.2 454.0 L683.0 464.4 L685.0 452.0 L688.5 455.4 L691.3 449.7 L694.0 436.0 L697.0 423.3 L700.3 426.0 L702.6 439.6 L704.3 447.5 L706.5 434.0 L710.0 428.4 L713.2 430.0 L716.0 433.4 L719.0 423.3 L721.0 428.4 L723.4 418.8 L726.2 415.4 L729.6 430.6 L731.8 417.0 L735.2 416.6 L738.0 412.6 L739.7 401.4 L742.0 399.0 L743.6 406.0 L745.3 424.4 L747.0 426.0 L749.2 430.0 L752.4 437.3 L755.0 424.9 L756.9 421.3 L759.5 436.4 L762.2 436.4 L765.8 444.4 L769.3 436.4 L772.9 426.6 L776.4 424.0 L778.7 411.5 L780.9 431.0 L784.4 445.3 L787.0 438.2 L791.5 438.2 L795.0 419.5 L798.6 405.3 L802.2 412.4 L805.7 401.8 L808.4 405.3 L812.0 403.6 L815.5 410.7 L819.0 414.2 L822.6 403.6 L825.3 410.7 L828.0 426.6 L829.7 414.2 L832.4 429.3 L836.8 431.0 L842.0 431.0 L844.8 432.9 L846.6 426.6 L851.0 427.5 L855.5 432.9 L858.1 432.0 L860.8 425.8 L863.4 431.0 L866.1 432.0 L868.8 449.7 L871.4 476.4 L875.0 476.4 L877.7 458.6 L879.4 438.2 L881.0 468.0 L883.0 456.0 L885.0 453.0 L887.0 460.0 L889.0 469.0 L891.0 484.0 L893.0 500.0 L895.0 482.0 L898.0 488.0 L900.0 479.0 L903.0 478.0 L906.0 483.0 L908.0 478.0 L910.0 467.0 L912.0 478.0 L915.0 478.0 L918.0 466.0 L921.0 464.0 L924.0 466.0 L926.0 474.0 L929.0 484.0 L932.0 484.0 L933.6 474.0 L936.0 484.0 L939.0 480.0 L941.0 492.0 L943.0 500.0 L945.0 502.0 L946.4 510.0 L948.0 484.0 L950.0 498.0 L952.0 480.0 L954.0 474.0 L957.0 478.0 L960.0 476.0 L963.0 476.0 L966.0 474.0 L969.0 472.0 L971.0 442.0 L974.0 440.0 L977.0 437.0 L980.0 440.0 L983.0 437.0 L986.0 439.0 L989.0 431.0 L992.0 434.0 L995.0 438.0 L997.0 430.0 L999.0 416.0 L1001.0 408.0 L1004.0 404.0 L1007.0 407.0 L1010.0 406.0 L1013.0 408.0 L1016.0 408.0 L1018.0 402.0 L1021.0 392.0 L1024.0 386.0 L1026.0 382.0 L1029.0 390.0 L1032.0 390.0 L1034.0 389.0 L1037.0 396.0 L1040.0 404.0 L1043.0 400.0 L1046.0 399.0 L1049.0 404.0 L1051.0 413.0 L1053.0 404.0 L1056.0 400.0 L1058.0 388.0 L1060.0 385.0 L1062.0 390.0 L1064.0 398.0 L1067.0 399.0 L1070.0 398.0 L1072.0 402.0 L1075.0 404.0 L1078.0 408.0 L1081.0 414.0 L1083.0 408.0 L1085.0 398.0 L1088.0 394.0 L1091.0 394.0 L1094.0 392.0 L1096.0 396.0 L1098.0 398.0 L1101.0 389.0 L1104.0 391.0 L1107.0 391.0 L1110.0 391.0 L1112.0 384.0 L1114.0 368.0 L1117.0 362.0 L1118.0 363.0 L1121.0 358.0 L1124.4 363.0 L1127.5 359.0 L1130.6 363.0 L1133.7 365.0 L1136.8 357.0 L1140.0 361.0 L1143.0 364.0 L1146.0 359.0 L1149.0 363.0 L1152.0 366.0 L1154.0 374.0 L1157.0 378.0 L1159.5 372.0 L1162.6 373.0 L1165.7 364.0 L1168.8 367.0 L1171.3 359.0 L1174.0 359.0 L1176.4 347.5 L1178.0 359.0 L1181.0 364.0 L1184.0 365.0 L1187.4 377.0 L1190.4 377.0 L1193.5 366.0 L1196.6 376.0 L1198.7 386.0 L1201.8 379.5 L1204.5 379.5 L1206.5 391.0 L1210.0 391.0 L1214.0 381.6 L1217.0 383.6 L1220.0 385.7 L1224.5 380.5 L1227.6 375.0 L1230.7 368.0 L1233.8 369.0 L1236.9 369.0 L1240.0 366.0 L1243.0 366.0 L1246.0 369.0 L1249.0 373.0 L1252.0 379.5 L1254.4 389.0 L1257.5 385.7 L1260.6 375.0 L1263.7 373.0 L1265.7 359.0 L1268.8 350.6 L1272.0 347.5 L1275.0 343.4 L1277.0 351.6 L1279.0 348.6 L1281.0 354.8 L1283.3 383.6 L1286.4 371.0 L1289.4 375.0 L1292.5 390.0 L1295.6 397.0 L1298.7 387.8 L1300.8 385.7 L1304.0 394.0 L1307.0 381.6 L1310.0 377.4 L1312.0 372.3 L1315.0 376.4 L1318.3 387.8 L1321.4 385.7 L1324.5 384.7 L1326.6 404.0 L1328.6 412.5 L1331.7 407.4 L1334.8 408.4 L1338.0 399.0 L1341.0 410.4 L1344.0 420.8 L1346.0 437.3 L1349.3 437.3 L1351.3 447.6 L1354.4 449.6 L1356.5 466.0 L1359.6 475.4 L1362.7 465.0 L1365.8 464.0 L1368.9 450.7 L1372.0 449.6 L1375.0 453.8 L1377.0 469.0 L1380.0 442.4 L1383.3 458.0 L1386.4 453.8 L1389.5 451.7 L1391.6 445.5 L1394.6 446.5 L1397.7 453.8 L1399.8 458.0 L1403.0 468.2 L1405.0 464.0 L1407.6 472.3 L1410.0 462.0 L1413.0 460.4 L1416.3 464.0 L1419.4 466.0 L1422.5 464.0 L1425.0 463.0 L1427.6 465.0" fill="none" stroke="#000" stroke-width="2.7" stroke-linejoin="round" stroke-linecap="round"/>
<line x1="946.0" y1="511.0" x2="1025.1" y2="389.8" stroke="#0616fa" stroke-width="2.25" stroke-linecap="round"/><path d="M1030.0 382.3L1028.6 394.5L1019.4 388.5z" fill="#0616fa"/><line x1="908.8" y1="697.5" x2="967.6" y2="575.4" stroke="#0616fa" stroke-width="2.25" stroke-linecap="round"/><path d="M971.5 567.3L971.7 579.6L961.8 574.8z" fill="#0616fa"/><line x1="1369.5" y1="674.3" x2="1425.7" y2="567.6" stroke="#0616fa" stroke-width="2.25" stroke-linecap="round"/><path d="M1429.9 559.6L1429.6 571.9L1419.9 566.8z" fill="#0616fa"/>
<text x="39.2" y="860" font-size="20.8" fill="#707070" textLength="360.5" lengthAdjust="spacingAndGlyphs">© 2025 Glassnode. All Rights Reserved.</text>
<g fill="#1a1a1a" stroke="none"><path d="M1381.40 864.60L1381.40 845.70L1385.00 844.90L1385.00 864.60z"/><path d="M1390.02 865.75L1390.02 836.10L1394.08 835.30L1394.08 865.75z"/><path d="M1417.00 865.75L1417.00 845.50L1420.60 844.70L1420.60 865.75z"/><path d="M1462.20 865.75L1462.20 845.30L1465.90 844.50L1465.90 865.75z"/><path d="M1528.10 865.75L1528.10 837.05L1531.90 836.25L1531.90 865.75z"/></g><g fill="none" stroke="#1a1a1a" stroke-width="3.75"><circle cx="1373.9" cy="855" r="9.2"/><path d="M1383.2 864A9.5 8.8 0 0 1 1365.9 869.05"/><circle cx="1409.3" cy="855" r="9.2"/><path d="M1438.6 849.2C1437.6 847 1435.3 845.9 1432.5 845.9C1429.2 845.9 1426.9 847.6 1426.9 850.6C1426.9 853.6 1430 854.4 1432.8 855C1436 855.7 1438.75 856.8 1438.75 859.9C1438.75 862.7 1436.2 864.3 1432.7 864.3C1429.3 864.3 1426.9 862.8 1425.7 860.7"/><path transform="translate(18.1 0)" d="M1438.6 849.2C1437.6 847 1435.3 845.9 1432.5 845.9C1429.2 845.9 1426.9 847.6 1426.9 850.6C1426.9 853.6 1430 854.4 1432.8 855C1436 855.7 1438.75 856.8 1438.75 859.9C1438.75 862.7 1436.2 864.3 1432.7 864.3C1429.3 864.3 1426.9 862.8 1425.7 860.7"/><path d="M1464.05 853.3A7.5 7.5 0 0 1 1479.05 853.3V865.75"/><circle cx="1495.8" cy="855" r="9.25"/><circle cx="1520.8" cy="855" r="9.2"/><path d="M1538 855.15H1555.6A9.1 9.1 0 1 0 1554.4 859.6"/></g>
</svg>
</body></html>
